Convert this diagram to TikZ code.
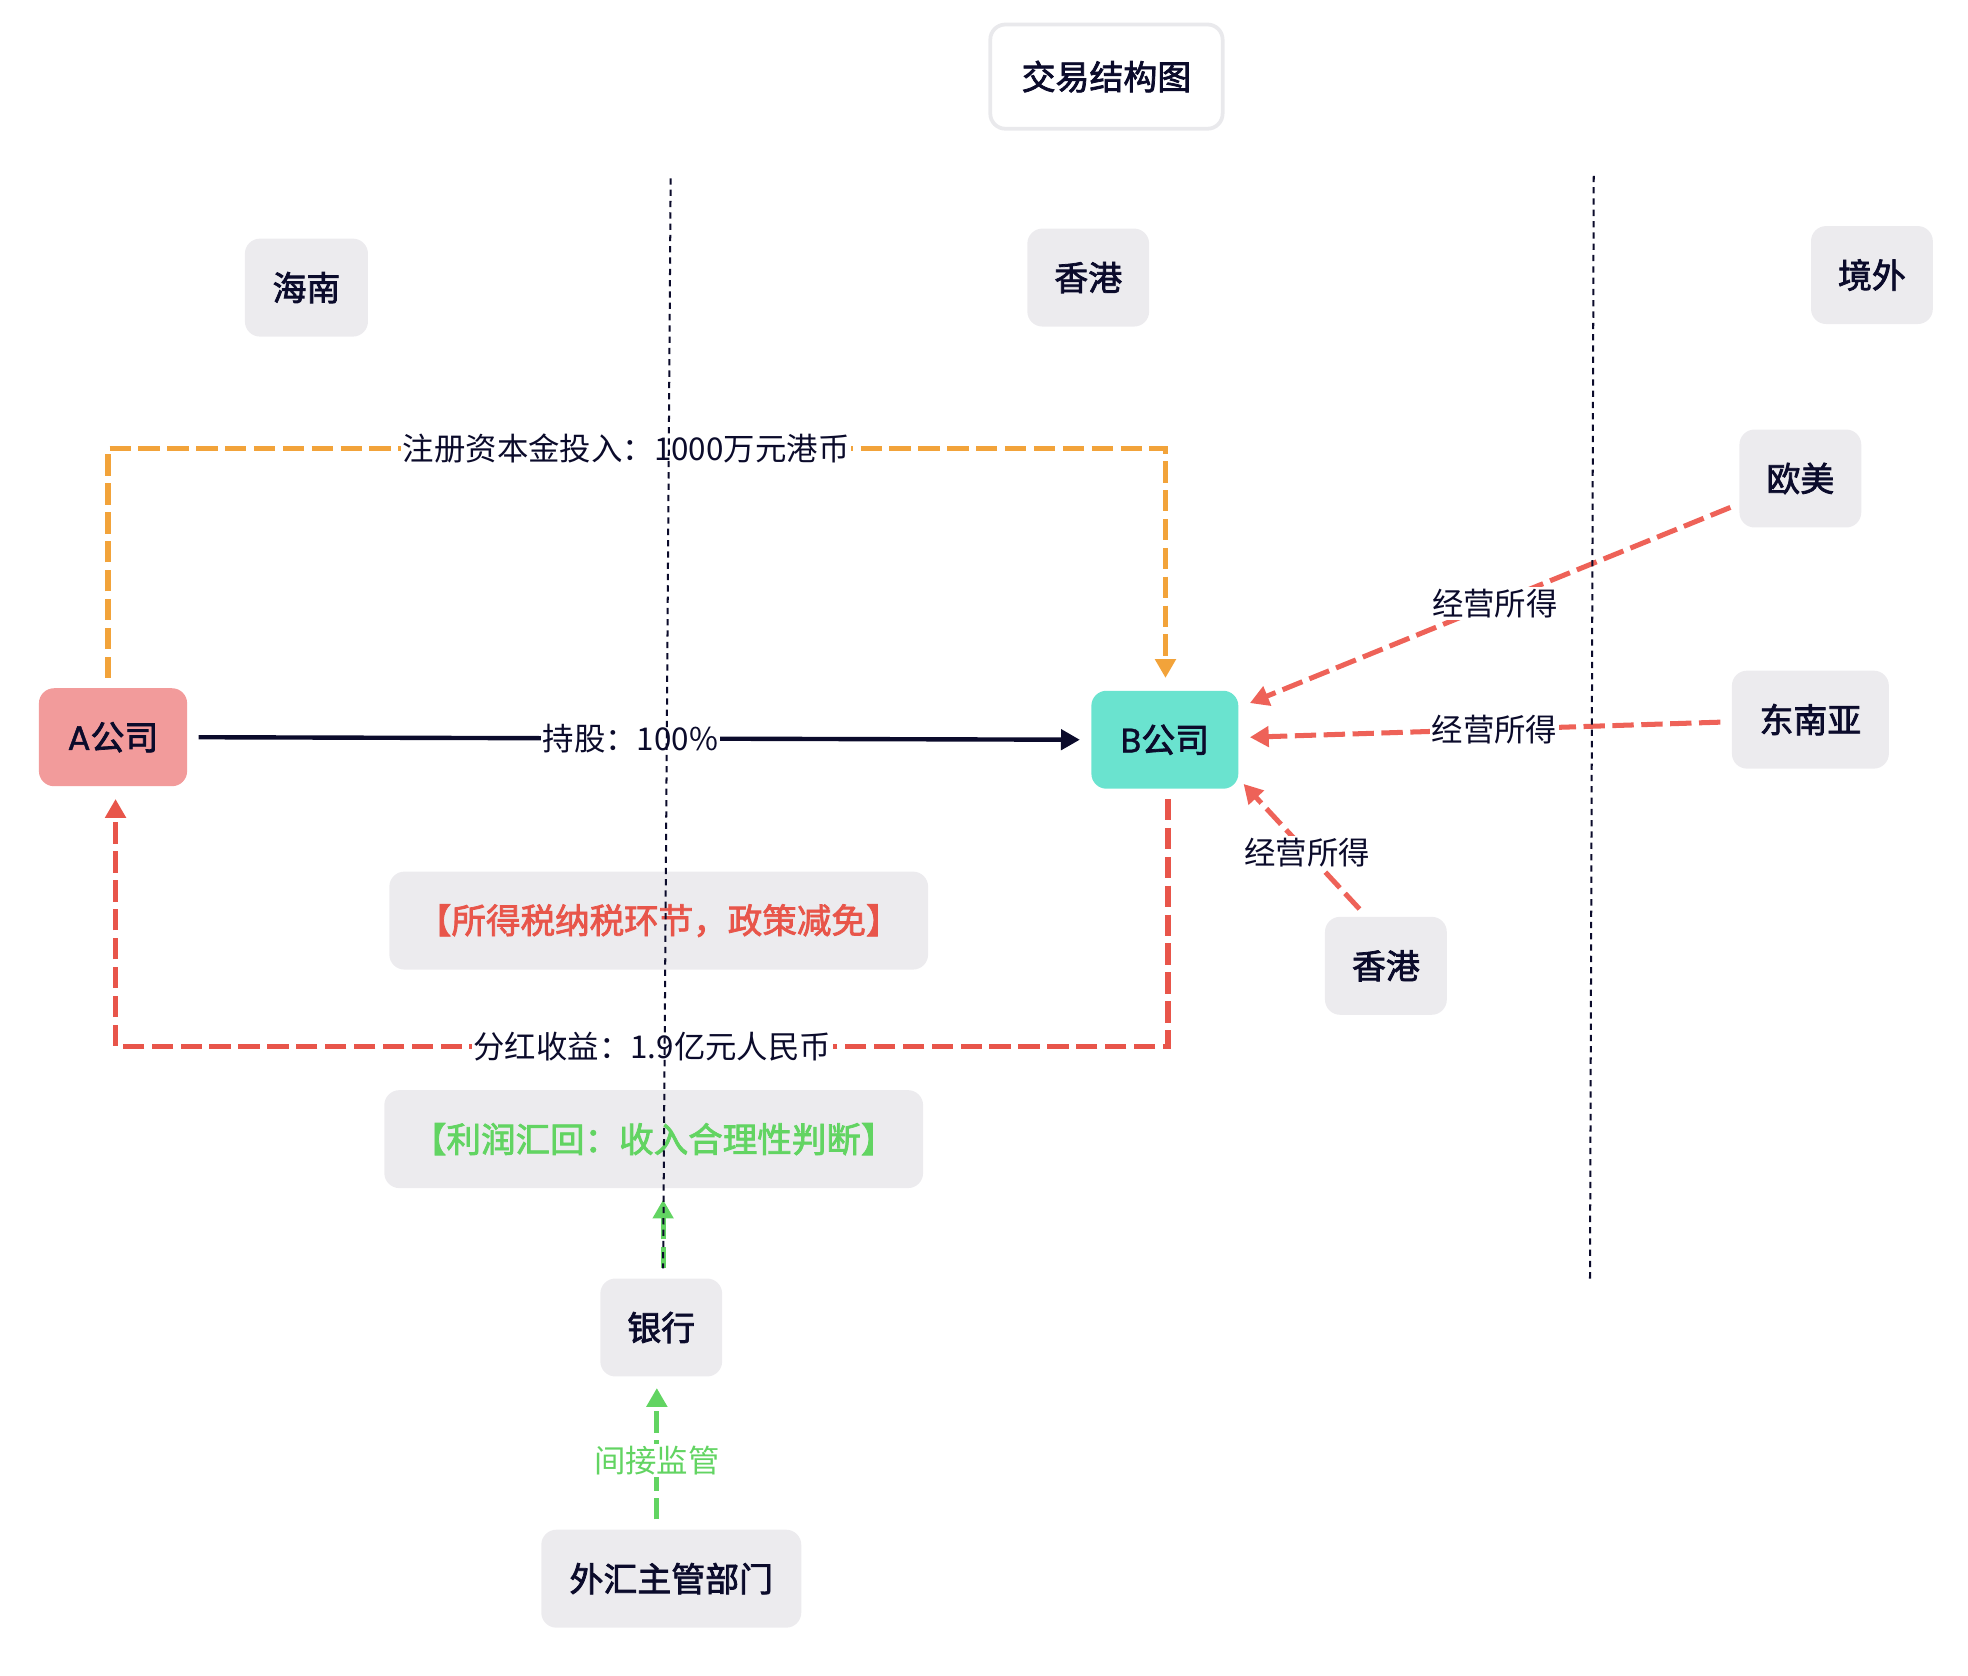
\documentclass[tikz,border=0pt]{standalone}
\usepackage{fontspec}
\setmainfont{Noto Sans CJK SC}
\newfontfamily\medfont[FakeBold=2.2]{Noto Sans CJK SC}
\newfontfamily\lat[FakeBold=1]{Poppins}
\usetikzlibrary{arrows.meta,calc}
\definecolor{ink}{HTML}{0B0B2B}
\definecolor{boxgray}{HTML}{ECEBEE}
\definecolor{titleedge}{HTML}{E9E9EC}
\definecolor{apink}{HTML}{F29B9B}
\definecolor{bteal}{HTML}{6AE3CF}
\definecolor{orangeline}{HTML}{F2A33A}
\definecolor{redline}{HTML}{E8554A}
\definecolor{redlight}{HTML}{EE6258}
\definecolor{greenline}{HTML}{62D462}
\tikzset{
  x=1pt, y=-1pt,
  region/.style={fill=boxgray, rounded corners=12pt, minimum height=78pt, text=ink,
    font=\fontsize{27pt}{32pt}\medfont, inner sep=0pt, align=center},
  company/.style={region},
  edgelabel/.style={fill=white, text=ink, inner sep=1.5pt,
    font=\fontsize{25pt}{30pt}\selectfont},
  tip/.style={-{Triangle[length=15pt,width=16pt]}},
  flow/.style={line width=4pt, dash pattern=on 17pt off 6pt, tip},
  divider/.style={ink, line width=1.6pt, dash pattern=on 5pt off 4pt},
}
\begin{document}
\begin{tikzpicture}
\useasboundingbox (0,0) rectangle (1567,1334);

% title
\node[draw=titleedge, line width=3pt, fill=white, rounded corners=12pt,
  minimum width=185pt, minimum height=83pt, text=ink, inner sep=0pt,
  font=\fontsize{27pt}{32pt}\medfont] (title) at (881,61) {交易结构图};

% region labels
\node[region, minimum width=98pt] (hn) at (244,229) {海南};
\node[region, minimum width=97pt] (hk1) at (866.5,221) {香港};
\node[region, minimum width=97pt] (jw) at (1490.5,219) {境外};
\node[region, minimum width=97pt] (om) at (1433.5,381) {欧美};
\node[region, minimum width=125pt] (dny) at (1441.5,573) {东南亚};
\node[region, minimum width=97pt] (hk2) at (1103.5,769) {香港};
\node[region, minimum width=97pt] (yh) at (526.5,1057) {银行};
\node[region, minimum width=207pt] (wh) at (534.5,1257) {外汇主管部门};

% note boxes
\node[region, minimum width=429pt, text=redline, font=\fontsize{27.5pt}{32pt}\medfont]
  (tax) at (524.5,733) {【所得税纳税环节，政策减免】};
\node[region, minimum width=429pt, text=greenline, font=\fontsize{27.5pt}{32pt}\medfont]
  (ret) at (520.5,907) {【利润汇回：收入合理性判断】};

% companies
\node[company, fill=apink, minimum width=118pt] (A) at (90,587) {{\lat A}公司};
\node[company, fill=bteal, minimum width=117pt] (B) at (927.5,589) {{\lat B}公司};

% coordinates for the bends
\coordinate (otop) at (0,357);
\coordinate (rbot) at (0,833);

% registered capital (orange)
\draw[flow, orangeline]
  ([xshift=-4pt,yshift=8pt]A.north) -- ([xshift=-4pt]A.north |- otop)
  -- node[edgelabel, pos=0.49] {注册资本金投入：1000万元港币} ([xshift=0.5pt]B.north |- otop)
  -- ([xshift=0.5pt,yshift=10pt]B.north);

% shareholding (black)
\draw[ink, line width=3.5pt, tip]
  ([xshift=9pt]A.east) -- node[edgelabel, pos=0.49] {持股：100\%} ([xshift=-9pt]B.west);

% dividends (red)
\draw[flow, redline]
  ([xshift=2.5pt,yshift=-8pt]B.south) -- ([xshift=2.5pt]B.south |- rbot)
  -- node[edgelabel, pos=0.49] {分红收益：1.9亿元人民币} ([xshift=2pt]A.south |- rbot)
  -- ([xshift=2pt,yshift=-10pt]A.south);

% operating income
\draw[flow, redlight] ($(om.west)+(-7,23)$) -- node[edgelabel, pos=0.49] {经营所得} ($(B.north east)+(9,10)$);
\draw[flow, redlight] ($(dny.west)+(-9,2)$) -- node[edgelabel, pos=0.48] {经营所得} ($(B.east)+(9,-2)$);
\draw[flow, redlight] ($(hk2.north)+(-21,-6)$) -- node[edgelabel, pos=0.45] {经营所得} ($(B.south east)+(4,-4)$);

% supervision (green)
\draw[flow, greenline] ($(yh.north)+(1.5,-8)$) -- ($(ret.south)+(7.5,9)$);
\draw[flow, greenline] ($(wh.north)+(-11.5,-8)$) --
  node[edgelabel, pos=0.45, text=greenline] {间接监管} ($(yh.south)+(-3.5,9)$);

% region dividers (drawn on top)
\coordinate (d1t) at (534,142);
\coordinate (d1b) at (528,1010);
\coordinate (d2t) at (1269,140);
\coordinate (d2b) at (1266,1020);
\draw[divider] (d1t) -- (d1b);
\draw[divider] (d2t) -- (d2b);
\end{tikzpicture}
\end{document}
